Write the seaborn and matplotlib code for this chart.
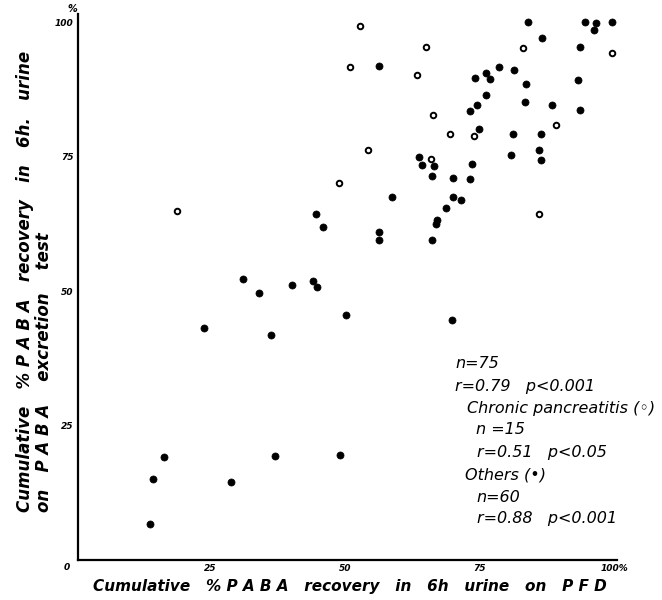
import matplotlib
matplotlib.use("Agg")
import matplotlib.pyplot as plt
import seaborn as sns
import pandas as pd

# Chronic pancreatitis (open circles)
cp_pfd = [52.8, 65.1, 51.0, 63.4, 83.1, 99.6, 66.4, 69.5, 73.9, 89.3, 54.3, 66.0, 48.9, 18.8, 86.1]
cp_paba = [99.3, 95.3, 91.6, 90.1, 95.1, 94.2, 82.8, 79.1, 78.9, 80.8, 76.3, 74.5, 70.1, 64.8, 64.4]

# Others (filled circles)
ot_pfd = [84.0, 94.7, 96.6, 99.7, 96.3, 86.7, 93.6, 56.3, 78.6, 81.5,
          76.2, 74.1, 77.0, 93.4, 83.7, 76.3, 83.5, 74.5, 88.5, 73.3,
          93.6, 74.9, 81.2, 86.5, 86.0, 80.8, 86.4, 63.8, 64.4, 66.6,
          73.7, 66.1, 70.1, 73.3, 58.7, 70.1, 71.6, 68.8, 66.9, 67.1,
          56.4, 56.4, 66.2, 50.1, 69.9, 44.6, 46.0, 31.1, 34.0, 40.1,
          44.1, 44.8, 23.7, 36.3, 16.4, 14.4, 13.7, 28.9, 37.0, 49.1]
ot_paba = [100.0, 100.0, 99.9, 100.0, 98.6, 97.0, 95.4, 91.9, 91.6, 91.1,
           90.5, 89.6, 89.4, 89.2, 88.4, 86.5, 85.2, 84.5, 84.6, 83.4,
           83.7, 80.2, 79.2, 79.1, 76.3, 75.2, 74.4, 74.9, 73.4, 73.2,
           73.6, 71.4, 71.1, 70.9, 67.5, 67.5, 67.0, 65.4, 62.5, 63.2,
           60.9, 59.5, 59.5, 45.5, 44.6, 64.4, 61.9, 52.2, 49.6, 51.2,
           51.9, 50.8, 43.1, 41.8, 19.1, 15.1, 6.6, 14.5, 19.3, 19.6]

x_ticks = [25, 50, 75, 100]
x_tick_labels = ["25", "50", "75", "100%"]
y_ticks = [25, 50, 75, 100]
y_tick_labels = ["25", "50", "75", "100"]

stats_lines = ["n=75", "r=0.79   p<0.001", "Chronic pancreatitis (◦)", "n =15",
               "r=0.51   p<0.05", "Others (•)", "n=60", "r=0.88   p<0.001"]

cp = pd.DataFrame({"pfd": cp_pfd, "paba": cp_paba})
ot = pd.DataFrame({"pfd": ot_pfd, "paba": ot_paba})

sns.set_style("white")
plt.rcParams["font.family"] = ["DejaVu Sans"]
plt.rcParams["text.color"] = "black"
plt.rcParams["xtick.color"] = "black"
plt.rcParams["ytick.color"] = "black"

W, H = 662, 600
fig = plt.figure(figsize=(W / 100, H / 100), dpi=100)
ax = fig.add_axes([78 / W, 40 / H, 539 / W, 546 / H])

sns.scatterplot(data=ot, x="pfd", y="paba", ax=ax, s=26, color="black",
                edgecolor="black", linewidth=0.5, zorder=3)
sns.scatterplot(data=cp, x="pfd", y="paba", ax=ax, s=16, facecolor="white",
                edgecolor="black", linewidth=1.4, zorder=3)

ax.set_xlim(0.37, 100.56)
ax.set_ylim(0, 101.5)
ax.set_xlabel("")
ax.set_ylabel("")
for side in ["top", "right"]:
    ax.spines[side].set_visible(False)
for side in ["left", "bottom"]:
    ax.spines[side].set_linewidth(1.6)
    ax.spines[side].set_color("black")

ax.set_xticks(x_ticks)
ax.set_xticklabels(x_tick_labels, fontsize=6.5, fontstyle="italic", fontweight="bold", color="black")
ax.set_yticks(y_ticks)
ax.set_yticklabels(y_tick_labels, fontsize=6.5, fontstyle="italic", fontweight="bold", color="black")
ax.tick_params(axis="both", length=0, pad=3)

def fx(px):
    return px / W

def fy(py):
    return 1 - py / H

fig.text(fx(67), fy(568), "0", fontsize=6.5, fontstyle="italic", fontweight="bold",
         ha="center", va="center", color="black")
fig.text(fx(72), fy(9), "%", fontsize=7, fontstyle="italic", fontweight="bold",
         ha="center", va="center", color="black")

# statistics block
xs = [455, 455, 467, 476, 477, 465, 476, 477]
ys = [364, 386, 408, 430, 452, 475, 497, 518]
for t, x, y in zip(stats_lines, xs, ys):
    fig.text(fx(x), fy(y), t, fontsize=11.5, fontstyle="italic",
             family=["DejaVu Sans"], ha="left", va="center", color="black")

# axis labels
fig.text(fx(93), fy(587), "Cumulative   % P A B A   recovery   in   6h   urine   on   P F D",
         fontsize=11, fontstyle="italic", fontweight="bold", ha="left", va="center",
         color="black")
fig.text(fx(25), fy(512), "Cumulative   % P A B A   recovery   in   6h.   urine",
         fontsize=12, fontstyle="italic", fontweight="bold", rotation=90,
         ha="center", va="bottom", color="black")
fig.text(fx(44), fy(512), "on   P A B A    excretion    test",
         fontsize=12, fontstyle="italic", fontweight="bold", rotation=90,
         ha="center", va="bottom", color="black")

fig.savefig("out.png", dpi=100)
